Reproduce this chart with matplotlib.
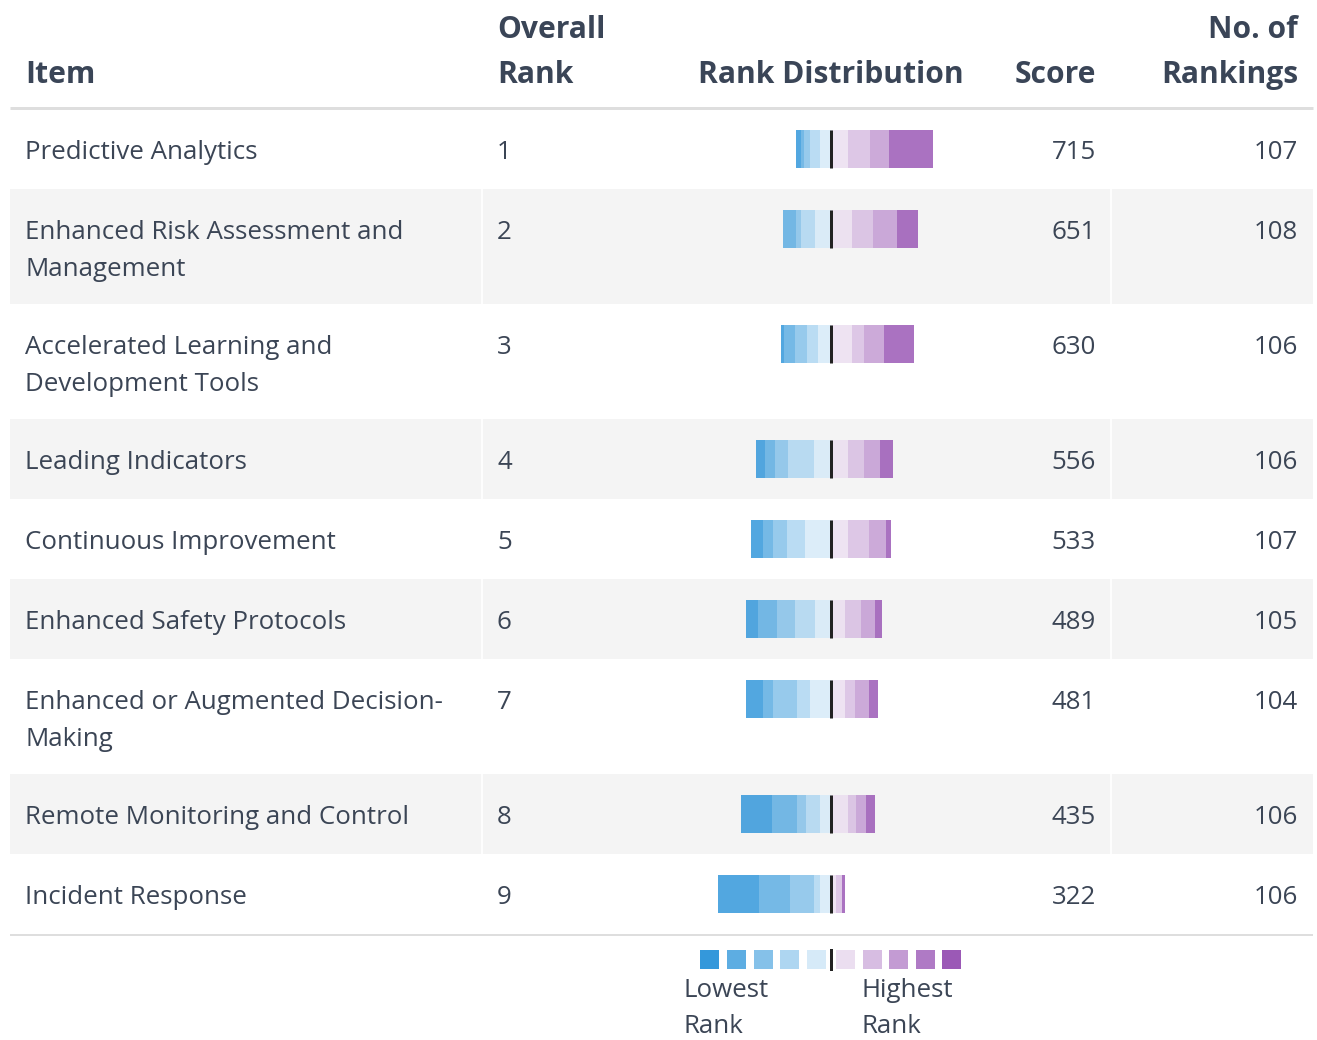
import textwrap
import matplotlib
matplotlib.use("Agg")
import matplotlib.pyplot as plt
from matplotlib.patches import Rectangle

# ---------------- data ----------------
items = [
    "Predictive Analytics",
    "Enhanced Risk Assessment and Management",
    "Accelerated Learning and Development Tools",
    "Leading Indicators",
    "Continuous Improvement",
    "Enhanced Safety Protocols",
    "Enhanced or Augmented Decision-Making",
    "Remote Monitoring and Control",
    "Incident Response",
]
overall_rank = [1, 2, 3, 4, 5, 6, 7, 8, 9]
scores = [715, 651, 630, 556, 533, 489, 481, 435, 322]
n_rankings = [107, 108, 106, 106, 107, 105, 104, 106, 106]

# number of respondents that gave each item rank 1 ... rank 9
rank1 = [34, 16, 23, 10, 4, 5, 7, 7, 2]
rank2 = [15, 19, 16, 13, 13, 11, 11, 8, 0]
rank3 = [17, 16, 9, 12, 16, 13, 8, 6, 5]
rank4 = [14, 17, 17, 14, 14, 11, 11, 14, 4]
rank5 = [8, 12, 10, 13, 20, 12, 16, 8, 8]
rank6 = [8, 11, 8, 20, 14, 16, 10, 11, 5]
rank7 = [5, 4, 10, 10, 11, 14, 19, 7, 19]
rank8 = [2, 10, 8, 8, 8, 15, 8, 20, 24]
rank9 = [4, 0, 3, 7, 9, 9, 13, 24, 32]

headers = ["Item", "Overall\nRank", "Rank Distribution", "Score", "No. of\nRankings"]
legend_low = "Lowest\nRank"
legend_high = "Highest\nRank"

# ---------------- styles ----------------
W, H = 1317, 1040
DPI = 100
FONT = "Open Sans"
TXT = "#3b4555"
HEAD = "#3a4557"
GRAY_ROW = "#f4f4f4"
RULE = "#dedede"
palette10 = ["#3498DB", "#5DADE2", "#85C1E9", "#AED6F1", "#D6EAF8",
             "#EBDEF0", "#D7BDE2", "#C39BD3", "#AF7AC5", "#9B59B6"]
# colour for rank 1 ... rank 9
rank_colors = ["#9B59B6", "#C39BD3", "#D7BDE2", "#EBDEF0",
               "#D6EAF8", "#AED6F1", "#85C1E9", "#5DADE2", "#3498DB"]
ranks = [rank1, rank2, rank3, rank4, rank5, rank6, rank7, rank8, rank9]

PX_PER_VOTE = 1.28
CENTER_X = 830.5
BAR_H = 38
BODY_FS = 18.6
HEAD_FS = 21.6

fig = plt.figure(figsize=(W / DPI, H / DPI), dpi=DPI)
fig.patch.set_facecolor("white")
ax = fig.add_axes([0, 0, 1, 1])
ax.set_xlim(0, W)
ax.set_ylim(H, 0)
ax.axis("off")

# header
col_x = [25, 497, 831, 1096, 1298]
col_ha = ["left", "left", "center", "right", "right"]
for txt, x, ha in zip(headers, col_x, col_ha):
    lines = txt.split("\n")
    ys = [83] if len(lines) == 1 else [38, 83]
    for line, y in zip(lines, ys):
        ax.text(x, y, line, ha=ha, va="baseline", fontsize=HEAD_FS,
                fontweight="bold", color=HEAD, family=FONT)
ax.plot([10, 1313], [108, 108], color=RULE, lw=3 * 0.72, solid_capstyle="butt")

# rows layout
wrapped = [textwrap.wrap(s, width=31) for s in items]
heights = [80 if len(w) == 1 else 115 for w in wrapped]
tops = []
t = 109
for h in heights:
    tops.append(t)
    t += h

for i, (top, h, lines) in enumerate(zip(tops, heights, wrapped)):
    if i % 2 == 1:
        ax.add_patch(Rectangle((10, top), 1303, h, facecolor=GRAY_ROW,
                               edgecolor="none", zorder=0))
        for vx in (481.5, 1110.5):
            ax.plot([vx, vx], [top, top + h], color="white", lw=1.2, zorder=1)
    yb = top + 50
    for k, line in enumerate(lines):
        ax.text(25, yb + 37 * k, line, ha="left", va="baseline",
                fontsize=BODY_FS, color=TXT, family=FONT)
    ax.text(497, yb, str(overall_rank[i]), ha="left", va="baseline",
            fontsize=BODY_FS, color=TXT, family=FONT)
    ax.text(1096, yb, str(scores[i]), ha="right", va="baseline",
            fontsize=BODY_FS, color=TXT, family=FONT)
    ax.text(1298, yb, str(n_rankings[i]), ha="right", va="baseline",
            fontsize=BODY_FS, color=TXT, family=FONT)

ax.plot([10, 1313], [t + 1, t + 1], color=RULE, lw=2 * 0.72, solid_capstyle="butt")

# distribution bars (x in votes, centred on 0)
bl, br = 660, 1000
bx = fig.add_axes([bl / W, 0, (br - bl) / W, 1])
bx.set_xlim((bl - CENTER_X) / PX_PER_VOTE, (br - CENTER_X) / PX_PER_VOTE)
bx.set_ylim(H, 0)
bx.axis("off")
bx.patch.set_alpha(0)

centers = [top + 40 for top in tops]
for i, yc in enumerate(centers):
    # right side: rank 4 nearest the centre, rank 1 outermost
    left = 0
    for r in [3, 2, 1, 0]:
        v = ranks[r][i]
        if v > 0:
            bx.barh(yc, v, left=left, height=BAR_H, color=rank_colors[r],
                    alpha=0.85, edgecolor="none", zorder=2)
        left += v
    # left side: rank 5 nearest the centre, rank 9 outermost
    right = 0
    for r in [4, 5, 6, 7, 8]:
        v = ranks[r][i]
        if v > 0:
            bx.barh(yc, v, left=-(right + v), height=BAR_H, color=rank_colors[r],
                    alpha=0.85, edgecolor="none", zorder=2)
        right += v
    bx.vlines(0, yc - BAR_H / 2, yc + BAR_H / 2, color="#222222",
              lw=3 * 0.72, zorder=3)

# legend
sq_w, sq_y = 19, 950
for k, c in enumerate(palette10):
    x = (700 + k * 26.75) if k < 5 else (836 + (k - 5) * 26.5)
    ax.add_patch(Rectangle((x, sq_y), sq_w, 19, facecolor=c, edgecolor="none"))
ax.plot([830.5, 830.5], [sq_y, sq_y + 19], color="#222222", lw=3 * 0.72)
for txt, x in ((legend_low, 683), (legend_high, 861)):
    for k, line in enumerate(txt.split("\n")):
        ax.text(x, 997 + 36 * k, line, ha="left", va="baseline",
                fontsize=BODY_FS, color=TXT, family=FONT)

fig.savefig("out.png", dpi=DPI, facecolor="white")
